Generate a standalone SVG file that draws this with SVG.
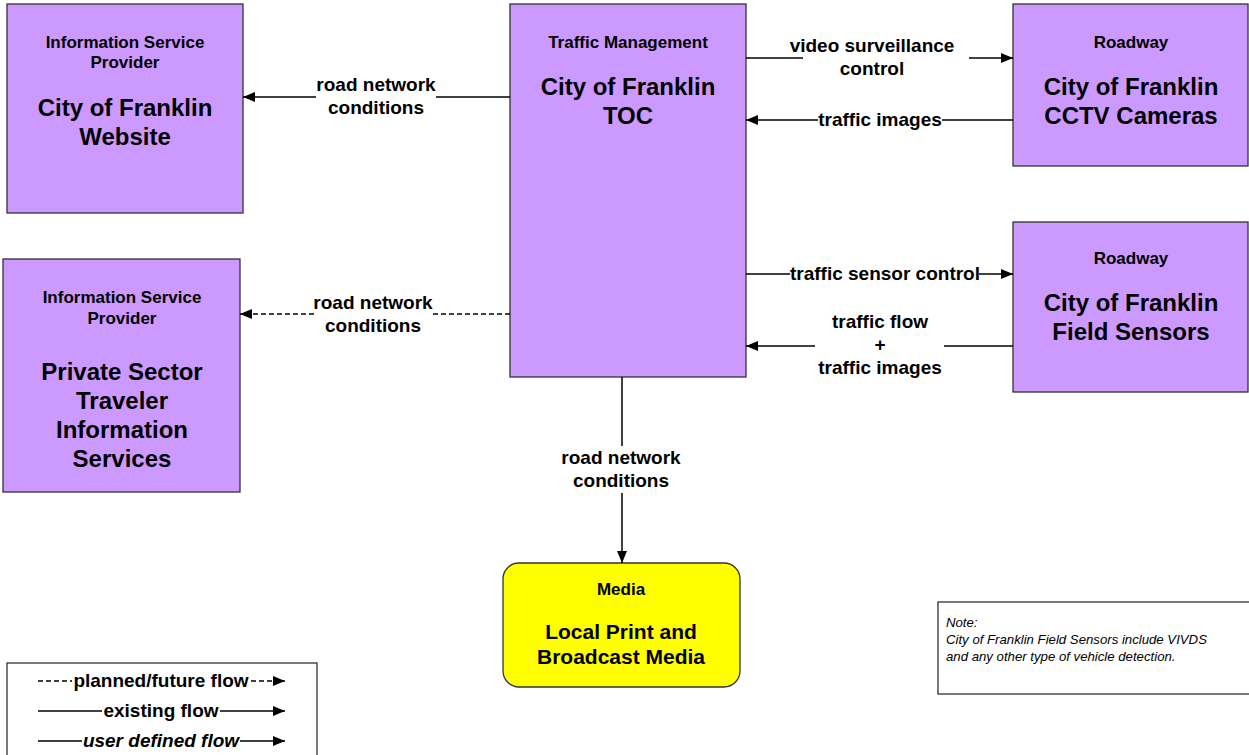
<svg xmlns="http://www.w3.org/2000/svg" width="1249" height="755" viewBox="0 0 1249 755">
<style>
.box{fill:#CC99FF;stroke:#333;stroke-width:1.3}
.media{fill:#FFFF00;stroke:#333;stroke-width:1.3}
.t{font-family:"Liberation Sans",Arial,sans-serif;font-weight:bold;fill:#000;text-anchor:middle}
.cat{font-size:17px}
.name{font-size:24px}
.mname{font-size:21px}
.lbl{font-size:19px}
.leg{font-size:19px}
.note{font-family:"Liberation Sans",Arial,sans-serif;font-style:italic;font-size:13.2px;fill:#000}
.ln{fill:none;stroke:#000;stroke-width:1.5}
.dash{stroke-dasharray:5,3}
</style>
<defs>
<marker id="ah" markerUnits="userSpaceOnUse" markerWidth="14" markerHeight="12" refX="12" refY="5" orient="auto">
<path d="M0,0 L12,5 L0,10 z" fill="#000"/>
</marker>
</defs>
<rect width="1249" height="755" fill="#fff"/>

<g id="website">
<rect class="box" x="7" y="4" width="236" height="209"/>
<text class="t cat" x="125" y="48">Information Service</text>
<text class="t cat" x="125" y="68">Provider</text>
<text class="t name" x="125" y="116">City of Franklin</text>
<text class="t name" x="125" y="145">Website</text>
</g>

<g id="private">
<rect class="box" x="3" y="259" width="237" height="233"/>
<text class="t cat" x="122" y="303">Information Service</text>
<text class="t cat" x="122" y="324">Provider</text>
<text class="t name" x="122" y="380">Private Sector</text>
<text class="t name" x="122" y="409">Traveler</text>
<text class="t name" x="122" y="438">Information</text>
<text class="t name" x="122" y="467">Services</text>
</g>

<g id="toc">
<rect class="box" x="510" y="4" width="236" height="373"/>
<text class="t cat" x="628" y="48">Traffic Management</text>
<text class="t name" x="628" y="95">City of Franklin</text>
<text class="t name" x="628" y="124">TOC</text>
</g>

<g id="cctv">
<rect class="box" x="1013" y="4" width="235" height="162"/>
<text class="t cat" x="1131" y="48">Roadway</text>
<text class="t name" x="1131" y="95">City of Franklin</text>
<text class="t name" x="1131" y="124">CCTV Cameras</text>
</g>

<g id="sensors">
<rect class="box" x="1013" y="222" width="235" height="170"/>
<text class="t cat" x="1131" y="264">Roadway</text>
<text class="t name" x="1131" y="311">City of Franklin</text>
<text class="t name" x="1131" y="340">Field Sensors</text>
</g>

<g id="media">
<rect class="media" x="503" y="563" width="237" height="124" rx="16" ry="16"/>
<text class="t cat" x="621" y="595">Media</text>
<text class="t mname" x="621" y="639">Local Print and</text>
<text class="t mname" x="621" y="664">Broadcast Media</text>
</g>

<g id="connectors">
<path class="ln" d="M510,97 H436"/>
<path class="ln" d="M316,97 H243" marker-end="url(#ah)"/>
<text class="t lbl" x="376" y="91">road network</text>
<text class="t lbl" x="376" y="114">conditions</text>

<path class="ln dash" d="M510,314 H432"/>
<path class="ln dash" d="M314,314 H240" marker-end="url(#ah)"/>
<text class="t lbl" x="373" y="309">road network</text>
<text class="t lbl" x="373" y="332">conditions</text>

<path class="ln" d="M746,58 H803"/>
<path class="ln" d="M969,58 H1013" marker-end="url(#ah)"/>
<text class="t lbl" x="872" y="52">video surveillance</text>
<text class="t lbl" x="872" y="75">control</text>

<path class="ln" d="M1013,120 H942"/>
<path class="ln" d="M818,120 H746" marker-end="url(#ah)"/>
<text class="t lbl" x="880" y="126">traffic images</text>

<path class="ln" d="M746,274 H790"/>
<path class="ln" d="M979,274 H1013" marker-end="url(#ah)"/>
<text class="t lbl" x="885" y="280">traffic sensor control</text>

<path class="ln" d="M1013,346 H944"/>
<path class="ln" d="M815,346 H746" marker-end="url(#ah)"/>
<text class="t lbl" x="880" y="328">traffic flow</text>
<text class="t lbl" x="880" y="351">+</text>
<text class="t lbl" x="880" y="374">traffic images</text>

<path class="ln" d="M622,377 V446"/>
<path class="ln" d="M622,493 V563" marker-end="url(#ah)"/>
<text class="t lbl" x="621" y="464">road network</text>
<text class="t lbl" x="621" y="487">conditions</text>
</g>

<g id="legend">
<rect x="7" y="663" width="310" height="100" fill="#fff" stroke="#333" stroke-width="1.3"/>
<path class="ln dash" d="M38,681 H72"/>
<text class="t leg" x="161" y="687">planned/future flow</text>
<path class="ln dash" d="M251,681 H285" marker-end="url(#ah)"/>
<path class="ln" d="M38,711 H102"/>
<text class="t leg" x="161" y="717">existing flow</text>
<path class="ln" d="M220,711 H285" marker-end="url(#ah)"/>
<path class="ln" d="M38,741 H82"/>
<text class="t leg" x="161" y="747" font-style="italic">user defined flow</text>
<path class="ln" d="M240,741 H285" marker-end="url(#ah)"/>
</g>

<g id="note">
<rect x="938" y="602" width="312" height="92" fill="#fff" stroke="#333" stroke-width="1.3"/>
<text class="note" x="946" y="627">Note:</text>
<text class="note" x="946" y="644">City of Franklin Field Sensors include VIVDS</text>
<text class="note" x="946" y="661">and any other type of vehicle detection.</text>
</g>
</svg>
